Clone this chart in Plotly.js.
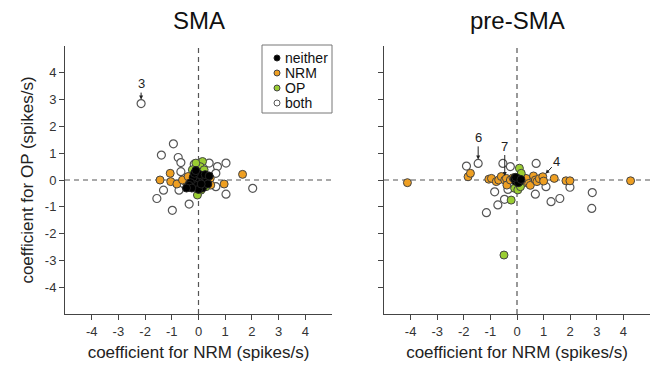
<!DOCTYPE html>
<html>
<head>
<meta charset="utf-8">
<script src="https://cdn.plot.ly/plotly-3.0.1.min.js"></script>
<style>html,body{margin:0;padding:0;background:#fff;}#chart{width:650px;height:366px;}</style>
</head>
<body>
<div id="chart"></div>
<script>
// ---- Data (coefficients, spikes/s) ----
const panelTitles = ["SMA", "pre-SMA"];
const tickVals = [-4, -3, -2, -1, 0, 1, 2, 3, 4];
const tickText = ["-4", "-3", "-2", "-1", "0", "1", "2", "3", "4"];
const categories = ["neither", "NRM", "OP", "both"];

// SMA
const smaBothX = [-2.15, -0.94, -1.39, -0.76, -0.66, -0.16, 0.4, 0.71, 1.03, 0.65, -0.66, 2.03, 1.03, -1.31, -1.56, -0.98, -0.35, -0.73, 0.65];
const smaBothY = [2.85, 1.35, 0.93, 0.84, 0.65, 0.59, 0.63, 0.5, 0.63, 0.25, 0.31, -0.31, -0.53, -0.38, -0.69, -1.13, -0.9, -0.38, -0.25];
const smaNrmX = [-1.44, -1.06, -1.04, -0.81, -0.48, -0.6, -0.39, 0.34, 0.44, 0.46, 0.96, 1.65];
const smaNrmY = [0.0, 0.25, -0.06, -0.15, -0.06, 0.0, 0.13, -0.06, 0.06, -0.19, -0.15, 0.21];
const smaOpX = [0.15, 0.06, -0.1, 0.21, -0.23, 0.28, 0.09, -0.04];
const smaOpY = [0.69, 0.5, 0.63, 0.38, 0.38, -0.25, -0.38, -0.56];
const smaNeitherX = [0.0, 0.1, -0.1, 0.2, -0.2, 0.3, -0.3, 0.05, -0.05, 0.15, -0.15, 0.25, -0.35, 0.35, 0.0, -0.1, 0.1, -0.25, -0.45, 0.4];
const smaNeitherY = [0.0, 0.05, -0.05, -0.1, 0.1, 0.05, -0.1, 0.2, -0.2, -0.3, 0.25, 0.2, -0.2, -0.15, -0.35, 0.35, -0.15, -0.3, -0.3, 0.15];

// pre-SMA
const preBothX = [-1.9, -1.46, -0.53, -0.25, 0.72, -0.84, -1.15, -0.72, -0.34, 0.69, 1.09, 1.28, 1.61, 1.99, 2.83, 2.81, -0.47];
const preBothY = [0.52, 0.62, 0.62, 0.5, 0.62, -0.44, -1.22, -0.93, -0.35, -0.53, -0.25, -0.81, -0.69, -0.27, -0.47, -1.06, -0.72];
const preNrmX = [-4.12, -1.84, -1.75, -1.06, -0.96, -0.78, -0.69, -0.59, -0.46, -0.4, -0.38, -0.25, -0.15, 0.25, 0.34, 0.44, 0.5, 0.62, 0.69, 0.75, 0.84, 0.97, 1.0, 1.4, 1.84, 1.99, 4.27];
const preNrmY = [-0.1, 0.12, 0.25, 0.03, 0.06, -0.06, 0.0, 0.13, 0.0, 0.06, -0.19, 0.0, 0.08, -0.1, 0.06, -0.13, -0.2, 0.15, 0.0, -0.06, 0.05, 0.12, -0.04, 0.06, -0.03, -0.03, -0.03];
const preOpX = [0.09, 0.16, -0.09, 0.03, 0.13, -0.22, -0.49];
const preOpY = [0.44, 0.25, -0.31, -0.37, -0.25, -0.75, -2.8];
const preNeitherX = [0.0, 0.05, -0.05, 0.1, -0.1, 0.05, -0.05, 0.15];
const preNeitherY = [0.0, 0.05, -0.05, -0.05, 0.05, -0.1, 0.1, 0.02];

// labelled neurons
const smaLabels = ["3"], smaLabelX = [-2.15], smaLabelY = [2.85];
const preLabels = ["6", "7", "4"], preLabelX = [-1.46, -0.46, 0.97], preLabelY = [0.62, 0.0, 0.12];

// ---- Styles ----
const FONT = "Liberation Sans, Arial, Helvetica, sans-serif";
const AX = "#444";
const styles = {
  neither: {color: "#000000", line: {color: "#222", width: 1}},
  NRM: {color: "#EE9F22", line: {color: "#444", width: 1}},
  OP: {color: "#9ACD32", line: {color: "#444", width: 1}},
  both: {color: "#FFFFFF", line: {color: "#555", width: 1.2}}
};

function tr(name, xs, ys, xa, ya) {
  return {
    type: "scatter", mode: "markers", name: name, x: xs, y: ys,
    xaxis: xa, yaxis: ya, showlegend: false,
    marker: {size: 8, color: styles[name].color, line: styles[name].line},
    hoverinfo: "x+y"
  };
}

const data = [
  tr("both", smaBothX, smaBothY, "x", "y"),
  tr("NRM", smaNrmX, smaNrmY, "x", "y"),
  tr("OP", smaOpX, smaOpY, "x", "y"),
  tr("neither", smaNeitherX, smaNeitherY, "x", "y"),
  tr("both", preBothX, preBothY, "x2", "y2"),
  tr("NRM", preNrmX, preNrmY, "x2", "y2"),
  tr("OP", preOpX, preOpY, "x2", "y2"),
  tr("neither", preNeitherX, preNeitherY, "x2", "y2")
];

function xAxis(dom, anchor) {
  return {
    domain: dom, anchor: anchor, range: [-5, 5], tickmode: "array", tickvals: tickVals, ticktext: tickText,
    showline: true, linecolor: AX, linewidth: 1, ticks: "outside", ticklen: 5, tickcolor: AX,
    showgrid: false, zeroline: false, tickfont: {size: 13, color: "#333", family: FONT},
    title: {text: "coefficient for NRM (spikes/s)", font: {size: 17, color: "#222", family: FONT}, standoff: 8},
    fixedrange: true
  };
}
function yAxis(anchor, labels) {
  return {
    domain: [0, 1], anchor: anchor, range: [-5, 5], tickmode: "array", tickvals: tickVals, ticktext: tickText,
    showline: true, linecolor: AX, linewidth: 1, ticks: "outside", ticklen: 5, tickcolor: AX,
    showgrid: false, zeroline: false, showticklabels: labels,
    tickfont: {size: 13, color: "#333", family: FONT},
    title: labels ? {text: "coefficient for OP (spikes/s)", font: {size: 17, color: "#222", family: FONT}, standoff: 6} : {text: ""},
    fixedrange: true
  };
}

function zeroLines(xr, yr) {
  const d = {color: "#555", width: 1.2, dash: "5px,4px"};
  return [
    {type: "line", xref: xr, yref: yr, x0: -5, x1: 5, y0: 0, y1: 0, line: d, layer: "below"},
    {type: "line", xref: xr, yref: yr, x0: 0, x1: 0, y0: -5, y1: 5, line: d, layer: "below"}
  ];
}

const annotations = [];
[["x", panelTitles[0]], ["x2", panelTitles[1]]].forEach(([xr, t]) => {
  annotations.push({xref: xr, yref: "paper", x: 0, y: 1, yanchor: "middle", yshift: 26, showarrow: false,
    text: t, font: {size: 24, color: "#111", family: FONT}});
});
const offs = {"3": [0, -20], "6": [0, -26], "7": [0, -34], "4": [14, -15]};
smaLabels.forEach((l, i) => annotations.push({xref: "x", yref: "y", x: smaLabelX[i], y: smaLabelY[i], text: l,
  showarrow: true, ax: offs[l][0], ay: offs[l][1], arrowhead: 2, arrowsize: 0.8, arrowwidth: 1, arrowcolor: "#222", standoff: 4,
  font: {size: 13, color: "#222", family: FONT}}));
preLabels.forEach((l, i) => annotations.push({xref: "x2", yref: "y2", x: preLabelX[i], y: preLabelY[i], text: l,
  showarrow: true, ax: offs[l][0], ay: offs[l][1], arrowhead: 2, arrowsize: 0.8, arrowwidth: 1, arrowcolor: "#222", standoff: 4,
  font: {size: 13, color: "#222", family: FONT}}));

// ---- Compact legend (box inside the SMA panel, top-right) ----
const M = {l: 65, r: 0, t: 46, b: 52}, W = 650, H = 366;
const pw = W - M.l - M.r, ph = H - M.t - M.b;
const px2x = p => (p - M.l) / pw;
const py2y = p => 1 - (p - M.t) / ph;
const legendShapes = [{type: "rect", xref: "paper", yref: "paper", x0: px2x(262), x1: px2x(332), y0: py2y(113), y1: py2y(45),
  line: {color: "#777", width: 1}, fillcolor: "#fff", layer: "above"}];
categories.forEach((c, i) => {
  const cy = 58 + 15 * i, cx = 277;
  legendShapes.push({type: "circle", xref: "paper", yref: "paper", x0: px2x(cx - 3), x1: px2x(cx + 3), y0: py2y(cy + 3), y1: py2y(cy - 3),
    fillcolor: styles[c].color, line: {color: styles[c].line.color, width: 1}, layer: "above"});
  annotations.push({xref: "paper", yref: "paper", x: px2x(283), y: py2y(cy), xanchor: "left", yanchor: "middle", showarrow: false,
    text: c, font: {size: 14, color: "#111", family: FONT}});
});

const layout = {
  width: W, height: H,
  margin: M,
  paper_bgcolor: "#fff", plot_bgcolor: "#fff",
  font: {family: FONT, color: "#222"},
  xaxis: xAxis([0, px2x(332)], "y"),
  yaxis: yAxis("x", true),
  xaxis2: xAxis([px2x(384), 1], "y2"),
  yaxis2: yAxis("x2", false),
  shapes: zeroLines("x", "y").concat(zeroLines("x2", "y2")).concat(legendShapes),
  annotations: annotations,
  showlegend: false
};

Plotly.newPlot("chart", data, layout, {displayModeBar: false, staticPlot: true});
</script>
</body>
</html>
